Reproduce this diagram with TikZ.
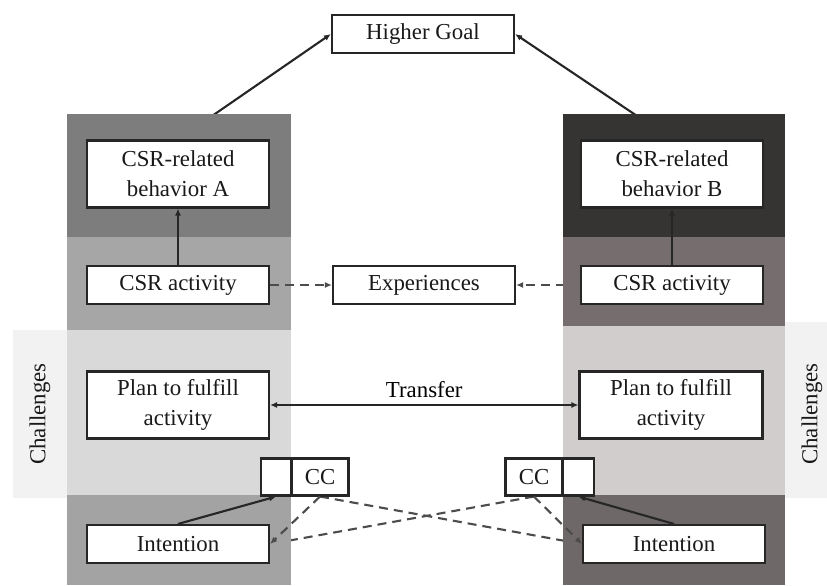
\documentclass[tikz,border=0pt]{standalone}
\usepackage{fontspec}
\setmainfont{Liberation Serif}
\usetikzlibrary{arrows.meta, positioning}

\definecolor{bandAone}{HTML}{7D7D7D}
\definecolor{bandAtwo}{HTML}{A6A6A6}
\definecolor{bandAthree}{HTML}{D9D9D9}
\definecolor{bandAfour}{HTML}{A3A3A3}
\definecolor{bandBone}{HTML}{363333}
\definecolor{bandBtwo}{HTML}{766E6E}
\definecolor{bandBthree}{HTML}{D1CDCD}
\definecolor{bandBfour}{HTML}{6F6868}
\definecolor{chal}{HTML}{F2F2F2}

\pgfdeclarelayer{hidden}
\pgfdeclarelayer{bands}
\pgfsetlayers{hidden,bands,main}

\begin{document}
\begin{tikzpicture}[x=0.2mm, y=-0.2mm,
  font=\fontsize{13}{17}\selectfont,
  box/.style={draw=black!85, fill=white, line width=1.2pt, minimum width=36.4mm, minimum height=7.6mm, align=center, inner sep=1pt, text=black!90},
  tall/.style={box, minimum height=13.4mm},
  ccbox/.style={box, minimum width=11.4mm, minimum height=7.4mm},
  tip/.style={-{Latex[length=1.4mm,width=1.2mm]}},
  link/.style={tip, draw=black!85, line width=1.2pt},
  dlink/.style={tip, draw=black!70, line width=1.2pt, dash pattern=on 1.8mm off 1.2mm}]

  \useasboundingbox (0,0) rectangle (827,585);

  % boxes
  \node[box] (G) at (423,34) {Higher Goal};
  \node[tall] (BA) at (178,174) {CSR-related\\behavior A};
  \node[tall] (BB) at (672,174) {CSR-related\\behavior B};
  \node[box] (AA) at (178,285) {CSR activity};
  \node[box] (AB) at (672,285) {CSR activity};
  \node[box] (E) at (424,285) {Experiences};
  \node[tall] (PA) at (178,405) {Plan to fulfill\\activity};
  \node[tall, minimum width=36.6mm] (PB) at (671,405) {Plan to fulfill\\activity};
  \node[ccbox] (CA) at (320,477) {CC};
  \node[ccbox, minimum width=6mm, left=-1pt of CA] (CAx) {};
  \node[ccbox] (CB) at (534,477) {CC};
  \node[ccbox, minimum width=6.2mm, right=-1pt of CB] (CBx) {};
  \node[box] (IA) at (178,544) {Intention};
  \node[box] (IB) at (674,544) {Intention};

  \node[rotate=90, text=black!90] (LA) at (40,414) {Challenges};
  \node[rotate=90, text=black!90] (LB) at (812,414) {Challenges};

  % columns
  \begin{pgfonlayer}{bands}
    \fill[chal] (13,330) rectangle (67,498);
    \fill[chal] (785,322) rectangle (827,498);
    \fill[bandAone] (67,114) rectangle (291,237);
    \fill[bandAtwo] (67,237) rectangle (291,330);
    \fill[bandAthree] (67,330) rectangle (291,495);
    \fill[bandAfour] (67,495) rectangle (291,585);
    \fill[bandBone] (563,114) rectangle (785,237);
    \fill[bandBtwo] (563,237) rectangle (785,326);
    \fill[bandBthree] (563,326) rectangle (785,495);
    \fill[bandBfour] (563,495) rectangle (785,585);
  \end{pgfonlayer}

  % lines running under the columns
  \begin{pgfonlayer}{hidden}
    \draw[link] (BA.north) -- (G.west);
    \draw[link] (BB.north) -- (G.east);
    \draw[dlink] (AB.west) -- (E.east);
    \draw[dlink] (CA.south) -- (IB.west);
    \draw[dlink] (CB.south) -- (IA.east);
  \end{pgfonlayer}

  \draw[link] (AA) -- (BA);
  \draw[link] (AB) -- (BB);
  \draw[dlink] (AA) -- (E);
  \draw[link, {Latex[length=1.4mm,width=1.2mm]}-{Latex[length=1.4mm,width=1.2mm]}] (PA) -- node[above] (T) {Transfer} (PB);
  \draw[link] (IA.north) -- (CAx.south);
  \draw[link] (IB.north) -- (CBx.south);
  \draw[dlink] (CA.south) -- (IA.east);
  \draw[dlink] (CB.south) -- (IB.west);
\end{tikzpicture}
\end{document}
